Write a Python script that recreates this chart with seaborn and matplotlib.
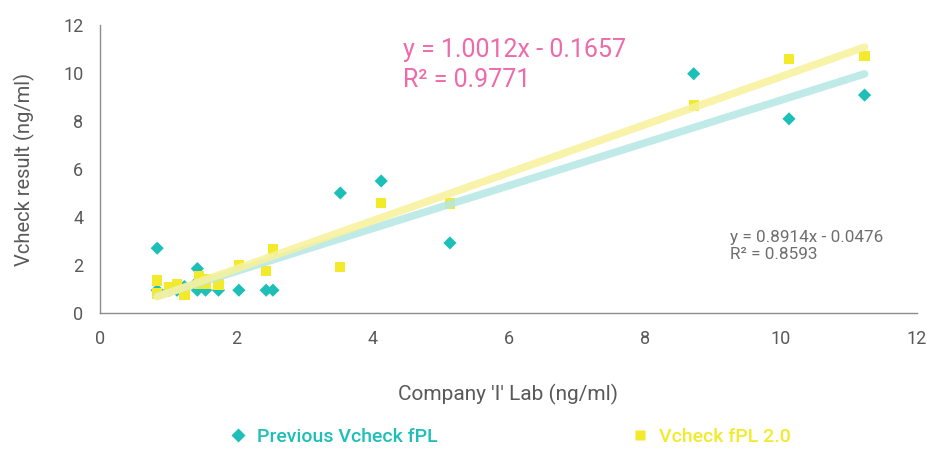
import numpy as np
import pandas as pd
import matplotlib
matplotlib.use("Agg")
import matplotlib.pyplot as plt
from matplotlib.lines import Line2D
import seaborn as sns

# Company 'I' Lab vs previous Vcheck fPL
prev_x = [0.84, 0.84, 1.02, 1.13, 1.24, 1.43, 1.43, 1.43, 1.55, 1.74, 2.04, 2.44, 2.54,
          3.53, 4.13, 5.14, 8.72, 10.12, 11.23]
prev_y = [2.70, 0.95, 0.95, 0.95, 1.10, 1.85, 1.30, 0.95, 0.95, 0.95, 0.95, 0.95, 0.95,
          5.00, 5.50, 2.92, 9.97, 8.09, 9.08]

# Company 'I' Lab vs Vcheck fPL 2.0
new_x = [0.84, 0.84, 1.02, 1.13, 1.24, 1.45, 1.45, 1.56, 1.56, 1.74, 2.04, 2.44, 2.54,
         3.53, 4.13, 5.14, 8.72, 10.12, 11.23]
new_y = [1.36, 0.81, 1.06, 1.19, 0.77, 1.54, 1.23, 1.43, 1.20, 1.19, 2.00, 1.75, 2.64,
         1.91, 4.59, 4.56, 8.65, 10.59, 10.70]

# trendline coefficients as printed on the chart
prev_fit = (0.8914, -0.0476, 0.8593)
new_fit = (1.0012, -0.1657, 0.9771)

teal = "#1DBFB8"
yellow = "#F2EA2A"
pink = "#EE6AAA"
grey = "#6E6E6E"

sns.set_theme(style="white")
plt.rcParams['font.family'] = ['Roboto', 'DejaVu Sans']

W, H = 928, 450
fig = plt.figure(figsize=(W / 100, H / 100), dpi=100)
ax = fig.add_axes([100 / W, 1 - 313 / H, 817 / W, 288 / H])

# trend lines
for xs, fit, col in [(prev_x, prev_fit, "#B5E7E5"), (new_x, new_fit, "#F7F29A")]:
    lx = np.array([min(xs), max(xs)])
    line_df = pd.DataFrame({"x": lx, "y": fit[0] * lx + fit[1]})
    sns.lineplot(data=line_df, x="x", y="y", ax=ax, color=col, lw=5.5,
                 alpha=0.85, solid_capstyle="round", zorder=3)

sns.scatterplot(x=prev_x, y=prev_y, ax=ax, marker="D", s=45, color=teal,
                edgecolor="none", zorder=2, legend=False)
sns.scatterplot(x=new_x, y=new_y, ax=ax, marker="s", s=55, color=yellow,
                edgecolor="none", zorder=2, legend=False)

ax.set_xlim(0, 12)
ax.set_ylim(0, 12)
ax.set_xticks(range(0, 13, 2))
ax.set_yticks(range(0, 13, 2))
ax.tick_params(length=0, labelsize=13, colors="#595959", pad=12)
for s in ["top", "right"]:
    ax.spines[s].set_visible(False)
for s in ["left", "bottom"]:
    ax.spines[s].set_color("#8C8C8C")
    ax.spines[s].set_linewidth(1.0)

ax.set_xlabel("Company 'I' Lab (ng/ml)", fontsize=15, color="#595959", labelpad=26)
ax.set_ylabel("Vcheck result (ng/ml)", fontsize=14.5, color="#595959", labelpad=20)

fig.text(403 / W, 1 - 38 / H, f"y = {new_fit[0]:.4f}x - {abs(new_fit[1]):.4f}\nR² = {new_fit[2]:.4f}",
         fontsize=18, color=pink, va="top", linespacing=1.3)
fig.text(730 / W, 1 - 230 / H, f"y = {prev_fit[0]:.4f}x - {abs(prev_fit[1]):.4f}\nR² = {prev_fit[2]:.4f}",
         fontsize=12.3, color=grey, va="top", linespacing=1.15)

# legend: two entries pinned at their own spots
fs = 14
for mk, ms, col, lab, mx in [("D", 7, teal, "Previous Vcheck fPL", 238),
                             ("s", 7.5, yellow, "Vcheck fPL 2.0", 640)]:
    h = Line2D([], [], ls="none", marker=mk, ms=ms, color=col, mec="none")
    lg = fig.legend(handles=[h], labels=[lab], loc="center left",
                    bbox_to_anchor=((mx - fs * 100 / 72 * 0.5) / W, 1 - 437 / H),
                    frameon=False, fontsize=fs, handlelength=1.0, handletextpad=0.5,
                    borderpad=0, borderaxespad=0)
    for t in lg.get_texts():
        t.set_color(col)
        t.set_fontweight("medium")

fig.savefig("out.png", dpi=100)
